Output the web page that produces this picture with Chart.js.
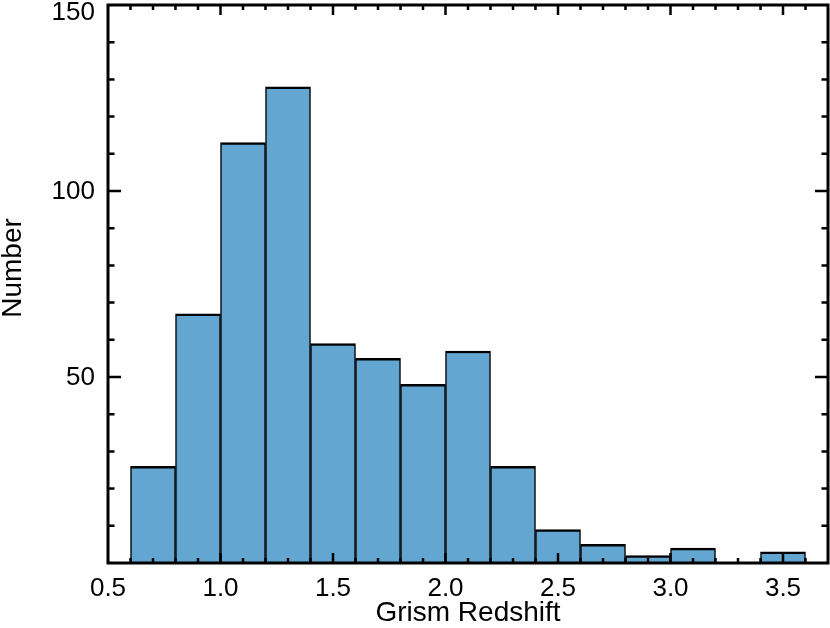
<!DOCTYPE html>
<html><head><meta charset="utf-8">
<script src="https://cdn.jsdelivr.net/npm/chart.js@4"></script>
<style>html,body{margin:0;padding:0;background:#fff;overflow:hidden}</style>
</head><body>
<canvas id="c" width="830" height="628"></canvas>
<script>
const binCenters = [0.7, 0.9, 1.1, 1.3, 1.5, 1.7, 1.9, 2.1, 2.3, 2.5, 2.7, 2.9, 3.1, 3.3, 3.5];
const counts     = [26, 67, 113, 128, 59, 55, 48, 57, 26, 9, 5, 2, 4, null, 3];
const xTickValues = [0.5, 1.0, 1.5, 2.0, 2.5, 3.0, 3.5];
const yTickValues = [50, 100, 150];
const xTitle = 'Grism Redshift';
const yTitle = 'Number';

const FONT = "'Liberation Sans', Arial, Helvetica, sans-serif";

const framePlugin = {
  id: 'idlFrame',
  afterDatasetsDraw(chart) {
    const {ctx, chartArea: a, scales: {x, y}} = chart;
    ctx.save();
    ctx.strokeStyle = '#000';
    ctx.lineWidth = 2.5;
    ctx.beginPath();
    // x minor/major ticks (inward, bottom and top)
    for (let i = 1; ; i++) {
      const v = x.min + i * 0.1;
      if (v >= x.max - 1e-6) break;
      const px = x.getPixelForValue(v);
      const major = Math.abs(v * 2 - Math.round(v * 2)) < 1e-6;
      const L = major ? 10 : 5;
      ctx.moveTo(px, a.bottom); ctx.lineTo(px, a.bottom - L);
      ctx.moveTo(px, a.top); ctx.lineTo(px, a.top + L);
    }
    // y ticks
    for (let v = y.min + 10; v < y.max; v += 10) {
      const py = y.getPixelForValue(v);
      const major = v % 50 === 0;
      const L = major ? 13 : 6.5;
      ctx.moveTo(a.left, py); ctx.lineTo(a.left + L, py);
      ctx.moveTo(a.right, py); ctx.lineTo(a.right - L, py);
    }
    ctx.stroke();
    ctx.lineWidth = 3;
    ctx.strokeRect(a.left, a.top, a.right - a.left, a.bottom - a.top);

    // y tick labels
    ctx.fillStyle = '#000';
    ctx.font = '26px ' + FONT;
    ctx.textAlign = 'right';
    ctx.textBaseline = 'middle';
    yTickValues.forEach(v => {
      const py = Math.max(y.getPixelForValue(v), a.top + 7);
      ctx.fillText(String(v), a.left - 13, py + 1);
    });
    // y title
    ctx.font = '28px ' + FONT;
    ctx.textAlign = 'center';
    ctx.translate(13, 268);
    ctx.rotate(-Math.PI / 2);
    ctx.fillText(yTitle, 0, 0);
    ctx.restore();
  }
};

new Chart(document.getElementById('c'), {
  type: 'bar',
  data: {
    datasets: [{
      data: binCenters.map((c, i) => ({x: c, y: counts[i]})),
      backgroundColor: '#63a6d2',
      borderColor: '#000',
      borderWidth: {top: 2.5, left: 1.5, right: 1.5, bottom: 0},
      borderSkipped: false,
      barPercentage: 1,
      categoryPercentage: 1
    }]
  },
  options: {
    responsive: false,
    animation: false,
    events: [],
    layout: {padding: {top: 5, right: 2, left: 0, bottom: 0}},
    plugins: {legend: {display: false}, tooltip: {enabled: false}},
    scales: {
      x: {
        type: 'linear',
        offset: false,
        min: 0.5,
        max: 3.7,
        afterBuildTicks: s => { s.ticks = xTickValues.map(v => ({value: v})); },
        afterFit: s => { s.height = 65; },
        grid: {display: false, drawTicks: false, offset: false},
        border: {display: false},
        ticks: {
          color: '#000',
          font: {family: FONT, size: 26, lineHeight: 1},
          padding: 13,
          maxRotation: 0,
          autoSkip: false,
          callback: v => Number(v).toFixed(1)
        },
        title: {
          display: true,
          text: xTitle,
          color: '#000',
          font: {family: FONT, size: 28, lineHeight: 1},
          padding: {top: 0, bottom: 1}
        }
      },
      y: {
        type: 'linear',
        min: 0,
        max: 150,
        afterFit: s => { s.width = 108; },
        grid: {display: false, drawTicks: false},
        border: {display: false},
        ticks: {display: false}
      }
    }
  },
  plugins: [framePlugin]
});
</script>
</body></html>
